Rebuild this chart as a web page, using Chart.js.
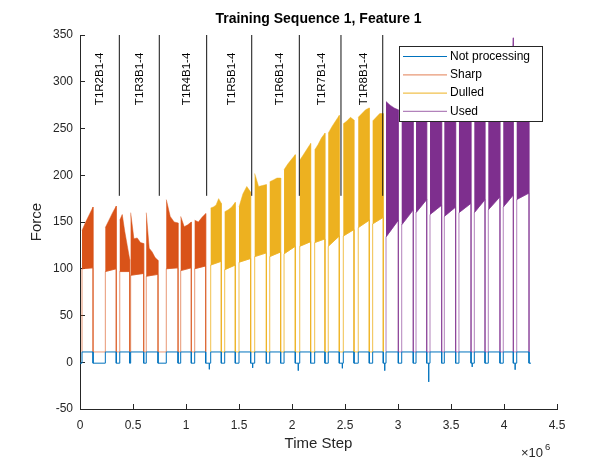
<!DOCTYPE html>
<html>
<head>
<meta charset="utf-8">
<script src="https://cdn.jsdelivr.net/npm/chart.js@4.4.1/dist/chart.umd.min.js"></script>
<style>
  html, body { margin: 0; padding: 0; background: #fff; }
  #wrap { width: 615px; height: 461px; }
</style>
</head>
<body>
<div id="wrap"><canvas id="chart" width="615" height="461"></canvas></div>
<script>
// Training Sequence 1, Feature 1 - force per time step, coloured by tool state

// processing bursts (time step where the cut starts / ends)
const burstStart = [19000, 239000, 375000, 478000, 625000, 814000, 950000, 1082000,
    1233000, 1365000, 1500000, 1648000, 1790000, 1925000, 2073000, 2214000, 2342000, 2484000, 2625000, 2761000,
    2887000, 3035000, 3170000, 3302000, 3437000, 3575000, 3720000, 3852000, 3993000, 4120000];
const burstEnd = [123000, 342000, 469000, 601000, 736000, 925000, 1050000, 1186000,
    1333000, 1465000, 1610000, 1758000, 1893000, 2031000, 2176000, 2311000, 2446000, 2585000, 2729000, 2861000,
    3003000, 3144000, 3271000, 3412000, 3544000, 3689000, 3821000, 3962000, 4088000, 4236000];
// 0 = Sharp, 1 = Dulled, 2 = Used
const burstState = [0, 0, 0, 0, 0, 0, 0, 0,
    1, 1, 1, 1, 1, 1, 1, 1, 1, 1, 1, 1,
    2, 2, 2, 2, 2, 2, 2, 2, 2, 2];
// upper envelope of each burst, read left to right
const burstTop = [
    [141, 150, 158, 166], [144, 152, 160, 167], [152, 158, 140, 125, 110], [160, 132, 133, 128, 127],
    [160, 122, 118, 112, 109], [174, 156, 150, 149], [156, 145, 147, 150], [152, 150, 155, 159],
    [165, 166, 168, 175, 170], [161, 163, 166, 171], [166, 180, 188, 182], [202, 188, 189, 190],
    [193, 195, 197, 197], [206, 212, 217, 222], [216, 222, 228, 234], [227, 233, 240, 245],
    [245, 252, 258, 264], [255, 258, 262, 259], [262, 266, 270, 272], [258, 262, 266, 266],
    [279, 275, 272, 270], [264, 274, 282, 290], [262, 272, 280, 288], [262, 270, 278, 286],
    [260, 268, 278, 288], [262, 270, 282, 292], [262, 272, 284, 294], [262, 274, 286, 296],
    [262, 276, 286, 296, 347], [264, 278, 288, 298]
];
// lower envelope of each burst (start, end)
const burstBottom = [
    [100, 101], [97, 100], [97, 97], [93, 95], [92, 94], [100, 101], [98, 101], [100, 103],
    [104, 108], [99, 104], [107, 111], [113, 117], [113, 118], [116, 124], [124, 129], [128, 132],
    [124, 135], [135, 142], [144, 152], [148, 155],
    [134, 152], [147, 163], [160, 174], [158, 168], [156, 166], [160, 170], [160, 174], [163, 177],
    [166, 179], [174, 181]
];
const idleLevel = 11;      // force while the spindle idles between cuts
const dipLevel = -1;       // force while not processing
const recordEnd = 4255000;
const spikeX = [1220000, 1629000, 2059000, 2475000, 2875000, 3290000, 3700000, 4105000];
const spikeY = [-7.6, -6, -9, -6.5, -9, -21, -5, -8];

// run markers
const markerX = [371000, 748000, 1195000, 1620000, 2069000, 2462000, 2856000];
const markerBottom = 178;
const markerTop = 350;
const markerLabels = ['T1R2B1-4', 'T1R3B1-4', 'T1R4B1-4', 'T1R5B1-4', 'T1R6B1-4', 'T1R7B1-4', 'T1R8B1-4'];
const labelX = [189000, 566000, 1007000, 1434000, 1887000, 2280000, 2679000];
const labelY = 275;

const xTicks = [0, 500000, 1000000, 1500000, 2000000, 2500000, 3000000, 3500000, 4000000, 4500000];
const yTicks = [-50, 0, 50, 100, 150, 200, 250, 300, 350];

const stateNames = ['Sharp', 'Dulled', 'Used'];
const stateFill = ['#D95319', '#EDB120', '#7E2F8E'];
const stateEdge = ['rgba(217,83,25,0.6)', 'rgba(237,177,32,0.8)', 'rgba(126,47,142,0.6)'];
const idleColor = '#0072BD';
const axisColor = '#262626';
const FONT = "'Liberation Sans', Arial, Helvetica, sans-serif";

function burstPolygon(i) {
    const s = burstStart[i], e = burstEnd[i], top = burstTop[i], n = top.length;
    const pts = top.map((v, j) => ({ x: s + (e - s) * j / (n - 1), y: v }));
    pts.push({ x: e, y: burstBottom[i][1] });
    pts.push({ x: s, y: burstBottom[i][0] });
    return pts;
}

function edgeLine(state) {
    const pts = [];
    burstStart.forEach((s, i) => {
        if (burstState[i] !== state) return;
        pts.push({ x: s, y: idleLevel }, { x: s, y: burstBottom[i][0] },
                 { x: burstEnd[i], y: burstBottom[i][1] }, { x: burstEnd[i], y: idleLevel });
    });
    return pts;
}

function idleLine() {
    const pts = [{ x: 0, y: dipLevel }];
    burstStart.forEach((s, i) => {
        const e = burstEnd[i];
        pts.push({ x: s, y: dipLevel }, { x: s, y: idleLevel }, { x: e, y: idleLevel }, { x: e, y: dipLevel });
        const next = i + 1 < burstStart.length ? burstStart[i + 1] : recordEnd;
        spikeX.forEach((sx, k) => {
            if (sx > e && sx < next) pts.push({ x: sx, y: dipLevel }, { x: sx, y: spikeY[k] }, { x: sx, y: dipLevel });
        });
    });
    pts.push({ x: recordEnd, y: dipLevel });
    return pts;
}

function markerLines() {
    const pts = [];
    markerX.forEach(x => { pts.push({ x, y: markerBottom }, { x, y: markerTop }, { x, y: null }); });
    return pts;
}

const datasets = [
    { label: 'markers', data: markerLines(), borderColor: '#111', borderWidth: 1, spanGaps: false },
    { label: 'Not processing', data: idleLine(), borderColor: idleColor, borderWidth: 1 }
];
burstStart.forEach((s, i) => {
    const st = burstState[i];
    datasets.push({ label: stateNames[st] + ' burst', data: burstPolygon(i), borderColor: stateFill[st],
        backgroundColor: stateFill[st], borderWidth: 0.5, fill: 'shape' });
});
stateNames.forEach((name, st) => {
    datasets.push({ label: name, data: edgeLine(st), borderColor: stateEdge[st], borderWidth: 1 });
});

const overlay = {
    id: 'overlay',
    afterDraw(chart) {
        const { ctx, chartArea: ca, scales: { x, y } } = chart;
        ctx.save();
        // title, centred over the axes
        ctx.fillStyle = '#000';
        ctx.font = 'bold 14px ' + FONT;
        ctx.textAlign = 'center';
        ctx.textBaseline = 'middle';
        ctx.fillText('Training Sequence 1, Feature 1', (ca.left + ca.right) / 2, 19);
        // run labels, rotated
        ctx.font = '11.5px ' + FONT;
        ctx.textAlign = 'left';
        markerLabels.forEach((t, i) => {
            ctx.save();
            ctx.translate(x.getPixelForValue(labelX[i]), y.getPixelForValue(labelY));
            ctx.rotate(-Math.PI / 2);
            ctx.fillText(t, 0, 0);
            ctx.restore();
        });
        // legend box
        const lx = ca.right - 158, ly = ca.top + 11, lw = 143, lh = 75;
        ctx.fillStyle = '#fff';
        ctx.fillRect(lx, ly, lw, lh);
        ctx.strokeStyle = axisColor;
        ctx.lineWidth = 1;
        ctx.strokeRect(lx + 0.5, ly + 0.5, lw, lh);
        const entries = [['Not processing', idleColor]].concat(stateNames.map((n, i) => [n, stateEdge[i]]));
        ctx.font = '12px ' + FONT;
        entries.forEach(([name, col], i) => {
            const ry = ly + 10.5 + i * 18.3;
            ctx.strokeStyle = col;
            ctx.lineWidth = 1.2;
            ctx.beginPath();
            ctx.moveTo(lx + 4, ry);
            ctx.lineTo(lx + 48, ry);
            ctx.stroke();
            ctx.fillStyle = '#000';
            ctx.fillText(name, lx + 51, ry);
        });
        // x exponent
        ctx.fillStyle = axisColor;
        ctx.textBaseline = 'alphabetic';
        ctx.font = '13px ' + FONT;
        ctx.fillText('\u00d710', 521, 457);
        ctx.font = '9.5px ' + FONT;
        ctx.fillText('6', 545, 450);
        ctx.restore();
    }
};

new Chart(document.getElementById('chart'), {
    type: 'line',
    data: { datasets },
    plugins: [overlay],
    options: {
        responsive: false,
        animation: false,
        devicePixelRatio: 1,
        elements: { point: { radius: 0, hitRadius: 0 }, line: { tension: 0 } },
        layout: { padding: { top: 35, right: 58, bottom: 0, left: 0 } },
        plugins: {
            legend: { display: false },
            tooltip: { enabled: false },
            title: { display: false }
        },
        scales: {
            x: {
                type: 'linear', min: 0, max: 4500000,
                afterBuildTicks: s => { s.ticks = xTicks.map(v => ({ value: v })); },
                afterFit: s => { s.height = 52; },
                grid: { drawOnChartArea: false, tickLength: -5, color: axisColor },
                border: { color: axisColor },
                ticks: { color: axisColor, padding: 14, maxRotation: 0, autoSkip: false,
                    font: { family: FONT, size: 12 }, callback: v => v / 1e6 },
                title: { display: true, text: 'Time Step', color: axisColor,
                    font: { family: FONT, size: 15 }, padding: { top: 0, bottom: 8 } }
            },
            y: {
                type: 'linear', min: -50, max: 350,
                afterBuildTicks: s => { s.ticks = yTicks.map(v => ({ value: v })); },
                afterFit: s => { s.width = 80; },
                grid: { drawOnChartArea: false, tickLength: -5, color: axisColor },
                border: { color: axisColor },
                ticks: { color: axisColor, padding: 12, font: { family: FONT, size: 12 } },
                title: { display: true, text: 'Force', color: axisColor,
                    font: { family: FONT, size: 15 }, padding: { top: 28, bottom: 0 } }
            }
        }
    }
});
</script>
</body>
</html>
